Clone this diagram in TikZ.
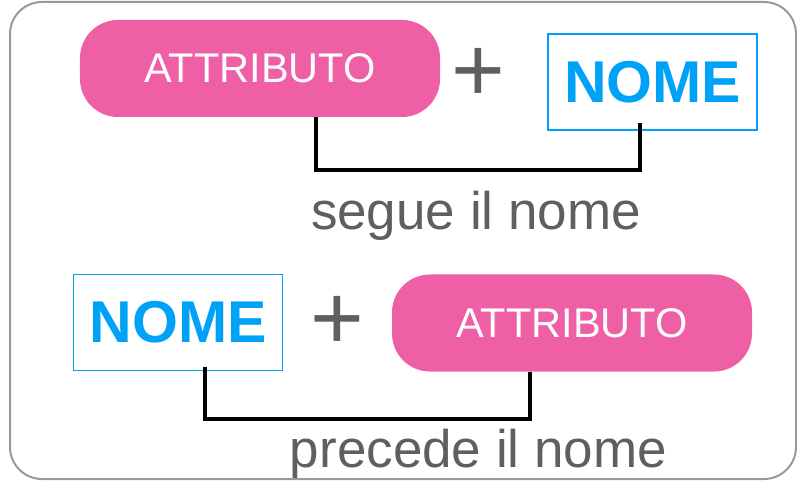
\documentclass[tikz,border=0pt]{standalone}
\usepackage{fontspec}
\setmainfont{Liberation Sans}
\usepackage{xcolor}
\definecolor{pinkattr}{HTML}{EE5FA6}
\definecolor{bluenome}{HTML}{00A2F7}
\definecolor{grigio}{HTML}{5F5F5F}
\tikzset{
	attr/.style={fill=pinkattr, rounded corners=38bp, minimum width=360bp, minimum height=97bp, text=white, font=\fontsize{41.5bp}{50bp}\selectfont},
	nome/.style={draw=bluenome, line width=1.6bp, minimum width=209bp, minimum height=96bp, text=bluenome, font=\fontsize{59bp}{70bp}\selectfont\bfseries},
	piu/.style={text=grigio, font=\fontsize{92bp}{100bp}\selectfont},
	etichetta/.style={text=grigio, anchor=base, font=\fontsize{53bp}{60bp}\selectfont},
	link/.style={line width=4bp}
}

\begin{document}
\begin{tikzpicture}[x=1bp, y=-1bp]
		\useasboundingbox (0,0) rectangle (797,481);
		\draw[line width=2bp, color=gray!80, rounded corners=32bp] (10,2) rectangle (796,479);

		% attributo + nome
		\node[attr] (attr1) at (260,68.5) {ATTRIBUTO};
		\node[piu] (piu1) at (478,75) {+};
		\node[nome] (nome1) at (652.5,82) {NOME};
		\draw[link] ([xshift=56bp]attr1.south) -- ++(0,53) -| ([xshift=-12.5bp,yshift=8bp]nome1.south);
		\node[etichetta] (segue) at (476,230) {segue il nome};

		% nome + attributo
		\node[nome] (nome2) at (178,322.5) {NOME};
		\node[piu] (piu2) at (337,323) {+};
		\node[attr] (attr2) at (572,323) {ATTRIBUTO};
		\draw[link] ([xshift=27bp,yshift=4bp]nome2.south) -- ++(0,52) -| ([xshift=-42bp]attr2.south);
		\node[etichetta] (precede) at (478.5,467) {precede il nome};
\end{tikzpicture}
\end{document}
